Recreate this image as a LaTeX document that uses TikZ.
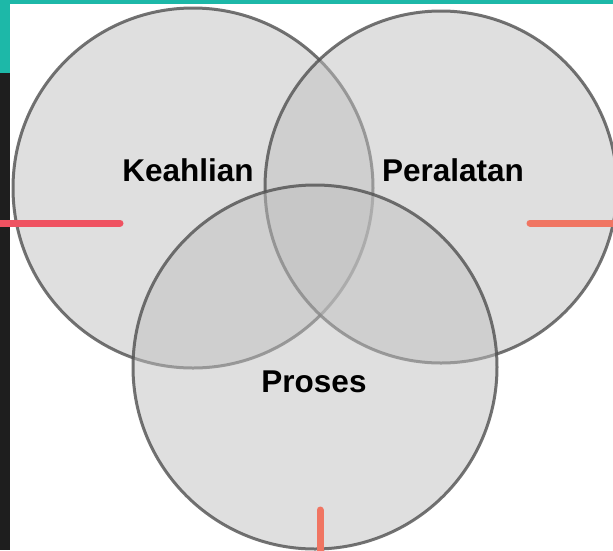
\documentclass[tikz,border=0pt]{standalone}
\usepackage{fontspec}
\setmainfont{Liberation Sans}
\definecolor{teal1}{HTML}{1DB8A8}
\definecolor{dark1}{HTML}{1E1E1E}
\definecolor{vfill}{HTML}{C0C0C0}
\definecolor{vline}{HTML}{505050}
\definecolor{redA}{HTML}{EF5261}
\definecolor{redB}{HTML}{F07562}
\tikzset{
  venn/.style={circle, inner sep=0pt, fill=vfill, fill opacity=0.5, draw=vline, draw opacity=0.8, line width=3pt},
  lbl/.style={font=\bfseries\fontsize{31.5}{33}\selectfont, text=black, inner sep=0pt},
  tick/.style={line width=7pt, line cap=round}
}
\begin{document}
\begin{tikzpicture}[x=1pt,y=-1pt]
\useasboundingbox (0,0) rectangle (613,550);
\fill[teal1] (0,0) rectangle (613,4);
\fill[teal1] (0,0) rectangle (10,73);
\fill[dark1] (0,73) rectangle (10,550);
\fill[white] (10,4) rectangle (613,550);
\begin{scope}
\clip (10,4) rectangle (613,550);
\node[venn, minimum size=360pt] (keahlian) at (193,188) {};
\node[venn, minimum size=352pt] (peralatan) at (441,187) {};
\node[venn, minimum size=364pt] (proses) at (315,367) {};
\end{scope}
\node[lbl] (tK) at (188,170) {Keahlian};
\node[lbl] (tP) at (453,170) {Peralatan};
\node[lbl] (tR) at (314,382) {Proses};
\coordinate (l0) at (0,223);
\coordinate (l1) at (120,223);
\coordinate (r0) at (530,223);
\coordinate (r1) at (616,223);
\coordinate (b0) at (320,510);
\coordinate (b1) at (320,553);
\draw[tick, redA] (l0) -- (l1);
\draw[tick, redB] (r0) -- (r1);
\draw[tick, redB] (b0) -- (b1);
\end{tikzpicture}
\end{document}
